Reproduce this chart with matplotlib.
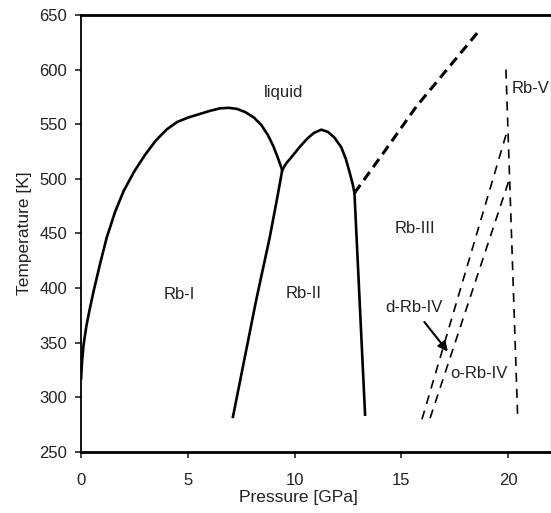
import matplotlib.pyplot as plt

plt.rcParams['font.family'] = ['Liberation Sans', 'DejaVu Sans']
plt.rcParams['lines.scale_dashes'] = False

# Rb-I melting curve (GPa, K)
melt1_p = [0, 0.05, 0.12, 0.25, 0.4, 0.6, 0.89, 1.2, 1.6, 2.0, 2.5, 3.0,
           3.5, 4.0, 4.5, 5.0, 5.5, 6.0, 6.5, 6.9, 7.3, 7.7, 8.1, 8.45,
           8.75, 9.0, 9.2, 9.42]
melt1_t = [316, 333, 348, 365, 380, 398, 422, 446, 470, 489, 507, 522,
           535, 545, 552, 556, 559, 562, 564.5, 565, 564, 561, 556, 549,
           540, 530, 520, 508]
# Rb-II melting curve
melt2_p = [9.42, 9.6, 9.9, 10.23, 10.6, 10.9, 11.25, 11.55, 11.85, 12.18,
           12.4, 12.6, 12.72, 12.8]
melt2_t = [508, 514, 521, 529, 537, 542, 545, 543, 538, 529,
           518, 504, 495, 487]
# Rb-III melting (dashed)
melt3_p = [12.8, 14.13, 15.69, 18.57]
melt3_t = [487, 523, 566, 634]
# solid-solid boundaries
b12_p = [7.1, 8.2, 8.83, 9.17, 9.42]
b12_t = [281, 389, 446, 481, 508]
b23_p = [12.8, 13.3]
b23_t = [487, 283]
# Rb-IV / Rb-V boundaries (dashed)
b34a_p = [15.96, 19.98]
b34a_t = [280, 546]
b34b_p = [16.34, 20.09]
b34b_t = [281, 502]
b5_p = [19.89, 20.44]
b5_t = [600, 282]

labels = [('liquid', 9.5, 579, 'center'), ('Rb-I', 4.6, 394, 'center'),
          ('Rb-II', 10.4, 395, 'center'), ('Rb-III', 15.65, 455, 'center'),
          ('Rb-V', 20.15, 583, 'left'), ('d-Rb-IV', 15.6, 382, 'center'),
          ('o-Rb-IV', 18.64, 322, 'center')]

fig = plt.figure(figsize=(5.51, 5.13), dpi=100)
ax = fig.add_axes([0.147, 0.1189, 0.853, 0.852])

ax.plot(melt1_p, melt1_t, color='black', lw=1.9, solid_capstyle='butt',
        solid_joinstyle='round')
ax.plot(melt2_p, melt2_t, color='black', lw=1.9, solid_joinstyle='round')
ax.plot(b12_p, b12_t, color='black', lw=1.9, solid_capstyle='butt')
ax.plot(b23_p, b23_t, color='black', lw=1.9, solid_capstyle='butt')
ax.plot(melt3_p, melt3_t, color='black', lw=2.2, dashes=(7.2, 4.3))
for pp, tt in [(b34a_p, b34a_t), (b34b_p, b34b_t), (b5_p, b5_t)]:
    ax.plot(pp, tt, color='black', lw=1.2, dashes=(6.5, 5.0))

for s, x, y, ha in labels:
    ax.text(x, y, s, ha=ha, va='center', fontsize=12, color='#222222')

ax.annotate('', xy=(17.17, 342), xytext=(16.07, 369),
            arrowprops=dict(arrowstyle='-|>', color='black', lw=1.5,
                            mutation_scale=14, shrinkA=0, shrinkB=0))

ax.set_xlim(0, 22)
ax.set_ylim(250, 650)
ax.set_xticks([0, 5, 10, 15, 20])
ax.set_yticks(range(250, 651, 50))
ax.tick_params(direction='out', length=4, width=1.2, labelsize=12,
               colors='#222222')
ax.tick_params(axis='x', pad=11)
ax.tick_params(axis='y', pad=6)
ax.spines['top'].set_linewidth(2)
ax.spines['bottom'].set_linewidth(2)
ax.spines['left'].set_linewidth(1.3)
ax.spines['right'].set_linewidth(1)
ax.spines['right'].set_color('#999999')

ax.set_xlabel('Pressure [GPa]', fontsize=12.5, color='#222222')
ax.set_ylabel('Temperature [K]', fontsize=12.5, color='#222222')
ax.xaxis.set_label_coords(0.462, -0.087)
ax.yaxis.set_label_coords(-0.104, 0.5)

fig.savefig('out.png', dpi=100)
